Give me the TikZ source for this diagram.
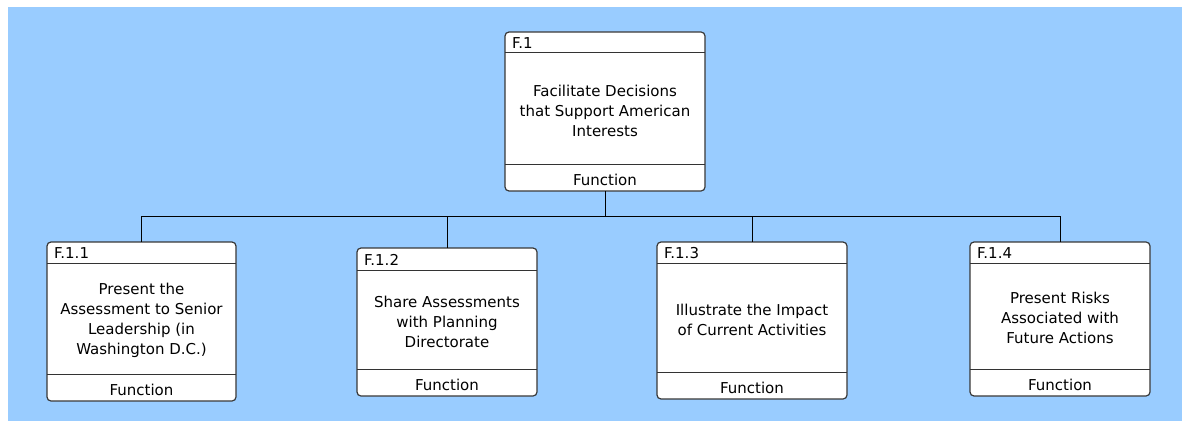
\documentclass[tikz,border=0pt]{standalone}
\usepackage{fontspec}
\setmainfont{DejaVu Sans}
\begin{document}
\begin{tikzpicture}[x=1pt,y=-1pt,
  boxshape/.style={draw=black!78,line width=1.2pt,rounded corners=4pt,fill=white,
    inner sep=0pt,outer sep=0pt,rectangle},
  divider/.style={draw=black!80,line width=1pt},
  wire/.style={draw=black,line width=1pt},
  idtext/.style={inner sep=0pt,anchor=base west,font=\fontsize{15}{20}\selectfont},
  kindtext/.style={inner sep=0pt,anchor=base,font=\fontsize{15}{20}\selectfont},
  bodytext/.style={inner sep=0pt,align=center,font=\fontsize{15}{20}\selectfont}]
% page and backdrop
\useasboundingbox (0,0) rectangle (1182,420);
\fill[white] (-2,-2) rectangle (1186,424);
\fill[fill={rgb,255:red,153;green,204;blue,255}] (8,7) rectangle (1186,424);
% function box: name, left, top, right, bottom, header line, footer line, id, text
\newcommand\fnbox[9]{%
  \node[boxshape,minimum width={(#4-#2)*1pt},minimum height={(#5-#3)*1pt}]
    (#1) at ({(#2+#4)/2},{(#3+#5)/2}) {};
  \draw[divider] (#2,#6) -- (#4,#6);
  \draw[divider] (#2,#7) -- (#4,#7);
  \node[idtext] (#1-id) at (#2+7,#6-4.5) {#8};
  \node[bodytext] (#1-body) at ({(#2+#4)/2},{(#6+#7)/2+2}) {#9};
  \node[kindtext] (#1-kind) at ({(#2+#4)/2},#5-6) {Function};
}
\fnbox{top}{505}{32}{705}{191}{53}{164}{F.1}{Facilitate Decisions\\that Support American\\Interests}
\fnbox{b1}{47}{242}{236}{401}{263}{374}{F.1.1}{Present the\\Assessment to Senior\\Leadership (in\\Washington D.C.)}
\fnbox{b2}{357}{248}{537}{396}{270}{369}{F.1.2}{Share Assessments\\with Planning\\Directorate}
\fnbox{b3}{657}{242}{847}{399}{263}{372}{F.1.3}{Illustrate the Impact\\of Current Activities}
\fnbox{b4}{970}{242}{1150}{396}{263}{369}{F.1.4}{Present Risks\\Associated with\\Future Actions}
% tree connectors
\coordinate (bus) at (605,216);
\draw[wire] (top.south) -- (bus);
\draw[wire] (b1.north |- bus) -- (b4.north |- bus);
\foreach \b in {b1,b2,b3,b4}
  \draw[wire] (\b.north |- bus) -- (\b.north);
\end{tikzpicture}
\end{document}
